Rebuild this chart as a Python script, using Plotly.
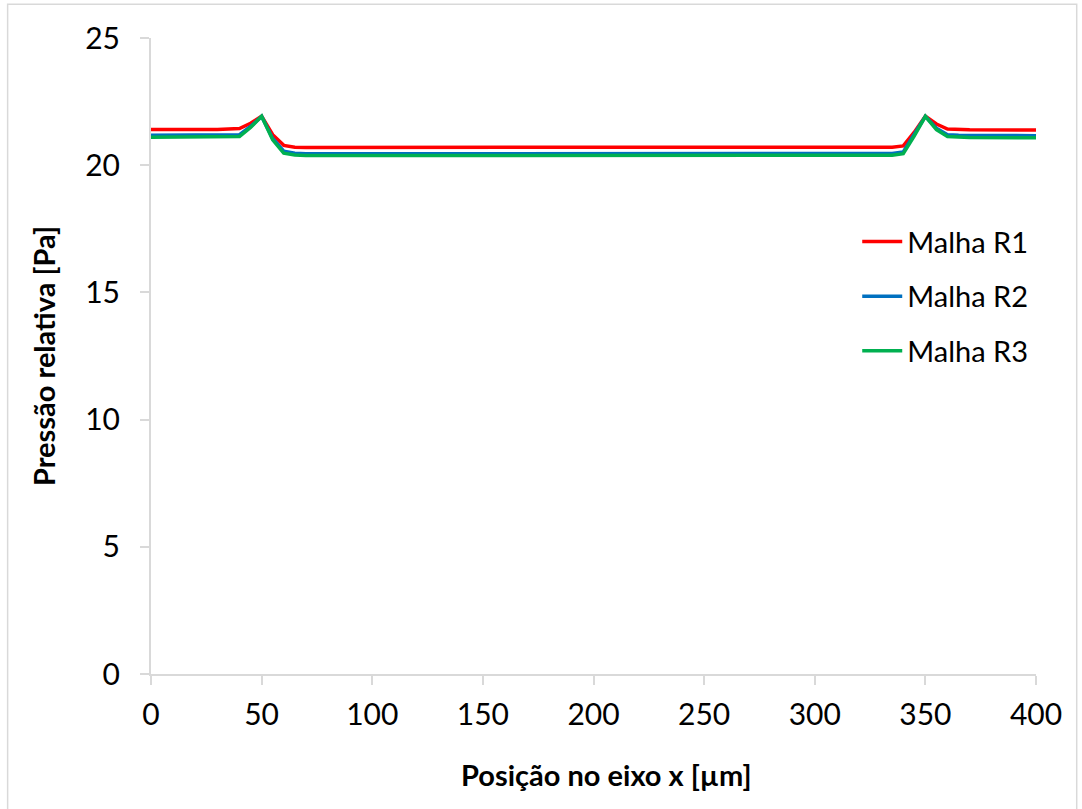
import plotly.graph_objects as go

# Position along the x axis [µm]
posicao = [0, 10, 20, 30, 40, 45, 50, 55, 60, 65, 70, 100, 150, 200, 250, 300,
           330, 335, 340, 345, 350, 355, 360, 365, 370, 400]

# Relative pressure [Pa] for each mesh
malha_r1 = [21.40, 21.40, 21.40, 21.40, 21.44, 21.65, 21.93, 21.20, 20.78, 20.71, 20.70,
            20.70, 20.70, 20.70, 20.70, 20.70, 20.70, 20.71, 20.76, 21.30, 21.93, 21.62,
            21.42, 21.40, 21.39, 21.38]
malha_r2 = [21.18, 21.18, 21.18, 21.18, 21.20, 21.52, 21.92, 21.05, 20.55, 20.47, 20.45,
            20.45, 20.45, 20.45, 20.45, 20.45, 20.45, 20.46, 20.52, 21.20, 21.92, 21.45,
            21.20, 21.18, 21.17, 21.16]
malha_r3 = [21.10, 21.10, 21.10, 21.10, 21.13, 21.48, 21.92, 21.00, 20.47, 20.40, 20.38,
            20.38, 20.38, 20.38, 20.38, 20.38, 20.38, 20.39, 20.45, 21.15, 21.92, 21.40,
            21.13, 21.10, 21.09, 21.08]

series = [("Malha R1", malha_r1, "#FF0000"),
          ("Malha R2", malha_r2, "#0070C0"),
          ("Malha R3", malha_r3, "#00B050")]

y_ticks = [0, 5, 10, 15, 20, 25]
x_ticks = [0, 50, 100, 150, 200, 250, 300, 350, 400]

FONT = "Lato, 'Open Sans', sans-serif"
AXIS_GREY = "#D9D9D9"

fig = go.Figure()
for nome, valores, cor in series:
    fig.add_trace(go.Scatter(x=posicao, y=valores, mode="lines", name=nome,
                             legendgroup=nome,
                             line=dict(color=cor, width=3.5)))

fig.update_layout(
    width=1082, height=809,
    margin=dict(l=151, r=46, t=38, b=135),
    paper_bgcolor="white", plot_bgcolor="white",
    font=dict(family=FONT, size=30, color="black"),
    showlegend=True,
    legend=dict(x=0.798, y=0.72, xanchor="left", yanchor="top",
                bgcolor="rgba(0,0,0,0)", font=dict(size=29),
                traceorder="grouped", tracegroupgap=14, itemwidth=40),
    xaxis=dict(range=[0, 400], tickvals=x_ticks, showgrid=False, zeroline=False,
               showline=True, linecolor=AXIS_GREY, linewidth=2,
               ticks="outside", ticklen=9, tickcolor=AXIS_GREY, tickwidth=2,
               tickfont=dict(size=30), ticklabelstandoff=4),
    yaxis=dict(range=[0, 25], tickvals=y_ticks, showgrid=False, zeroline=False,
               showline=True, linecolor=AXIS_GREY, linewidth=2,
               ticks="outside", ticklen=9, tickcolor=AXIS_GREY, tickwidth=2,
               tickfont=dict(size=30), ticklabelstandoff=14),
    shapes=[dict(type="rect", xref="paper", yref="paper",
                 x0=-0.162, x1=1.046, y0=-0.4, y1=1.053,
                 line=dict(color=AXIS_GREY, width=1.5), layer="below")],
    annotations=[
        dict(text="<b>Posição no eixo x [µm]</b>", xref="paper", yref="paper",
             x=0.515, y=-0.158, xanchor="center", yanchor="middle",
             showarrow=False, font=dict(size=29)),
        dict(text="<b>Pressão relativa [Pa]</b>", xref="paper", yref="paper",
             x=-0.122, y=0.5, xanchor="center", yanchor="middle", textangle=-90,
             showarrow=False, font=dict(size=29)),
    ],
)

fig.write_html("out.html")
